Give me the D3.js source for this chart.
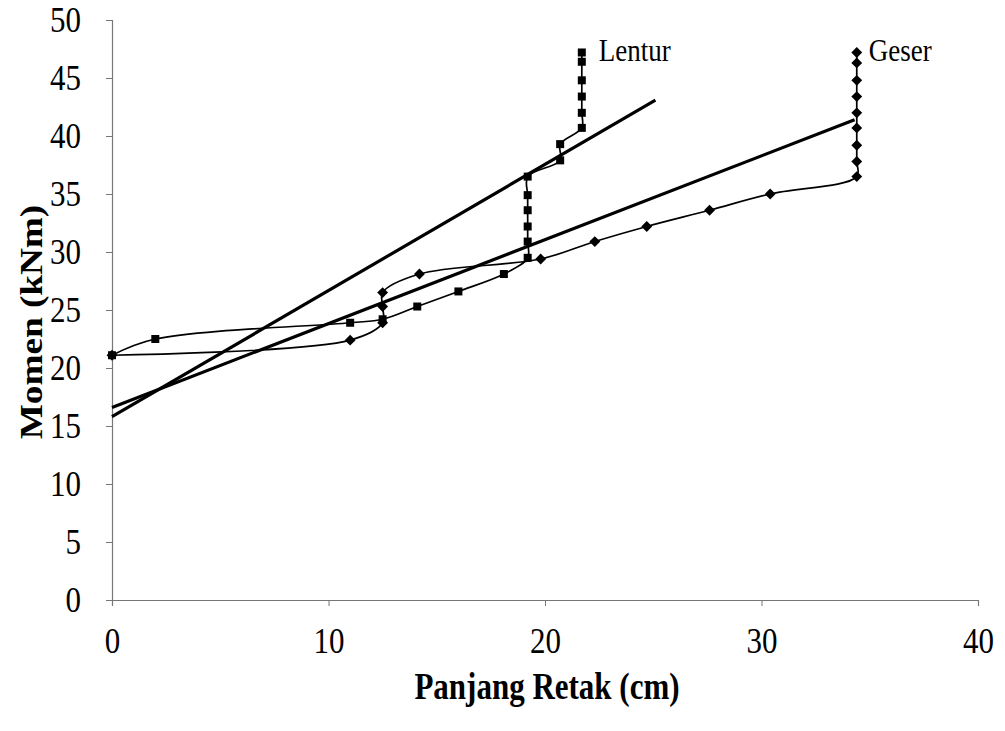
<!DOCTYPE html>
<html>
<head>
<meta charset="utf-8">
<script src="https://cdn.jsdelivr.net/npm/d3@7"></script>
<style>
  body { margin: 0; background: #fff; }
  svg text { font-family: "Liberation Serif", "Times New Roman", serif; fill: #000; }
</style>
</head>
<body>
<svg id="chart" width="1005" height="731"></svg>
<script>
// Lentur (flexure) series, square markers
const lenturX = [0, 2, 11, 12.5, 14.1, 16.0, 18.1, 19.2, 19.2, 19.2, 19.2, 19.2, 19.2, 20.7, 20.7, 21.7, 21.7, 21.7, 21.7, 21.7, 21.7];
const lenturY = [21.1, 22.5, 23.9, 24.2, 25.3, 26.6, 28.1, 29.5, 30.9, 32.2, 33.6, 34.9, 36.5, 37.9, 39.3, 40.7, 42.0, 43.4, 44.8, 46.4, 47.2];
// Geser (shear) series, diamond markers
const geserX = [0, 11, 12.5, 12.5, 12.5, 14.2, 19.8, 22.3, 24.7, 27.6, 30.4, 34.4, 34.4, 34.4, 34.4, 34.4, 34.4, 34.4, 34.4, 34.4];
const geserY = [21.1, 22.4, 23.9, 25.3, 26.5, 28.1, 29.4, 30.9, 32.2, 33.6, 35.0, 36.5, 37.8, 39.2, 40.7, 42.0, 43.4, 44.8, 46.3, 47.2];
// linear trend lines
const lenturTrend = [[0, 15.8], [25.1, 43.1]];
const geserTrend = [[0, 16.6], [34.3, 41.4]];
const xTicks = [0, 10, 20, 30, 40];
const yTicks = [0, 5, 10, 15, 20, 25, 30, 35, 40, 45, 50];

const svg = d3.select('#chart');
const x = d3.scaleLinear().domain([0, 40]).range([112, 978]);
const y = d3.scaleLinear().domain([0, 50]).range([600, 20]);

// axes
const xAxis = svg.append('g')
    .attr('transform', `translate(0, ${y(0)})`)
    .call(d3.axisBottom(x).tickValues(xTicks).tickSize(6).tickPadding(17));
const yAxis = svg.append('g')
    .attr('transform', `translate(${x(0)}, 0)`)
    .call(d3.axisLeft(y).tickValues(yTicks).tickSize(6).tickPadding(25));
[xAxis, yAxis].forEach(a => {
    a.select('.domain').attr('stroke', '#777').attr('stroke-width', 1.2);
    a.selectAll('.tick line').attr('stroke', '#777');
    a.selectAll('.tick text')
        .style('font-family', '"Liberation Serif", serif')
        .style('font-size', '31px')
        .attr('fill', '#000')
        .attr('transform', 'scale(1, 1.15)');
});
xAxis.selectAll('.tick text').attr('dy', '0.75em');

// axis titles
svg.append('text')
    .attr('transform', 'translate(547, 699) scale(1, 1.2)')
    .attr('text-anchor', 'middle')
    .style('font-size', '31px').style('font-weight', 'bold')
    .text('Panjang Retak (cm)');
svg.append('text')
    .attr('transform', 'translate(42, 322) rotate(-90) scale(1.2, 1)')
    .attr('text-anchor', 'middle')
    .style('font-size', '31px').style('font-weight', 'bold')
    .text('Momen (kNm)');

// trend lines
const straight = d3.line().x(d => x(d[0])).y(d => y(d[1]));
[lenturTrend, geserTrend].forEach(t => {
    svg.append('path')
        .attr('d', straight(t))
        .attr('fill', 'none')
        .attr('stroke', '#000')
        .attr('stroke-width', 3.2);
});

// data curves
const smooth = d3.line().x(d => x(d[0])).y(d => y(d[1])).curve(d3.curveCatmullRom.alpha(0.5));
const lentur = lenturX.map((v, i) => [v, lenturY[i]]);
const geser = geserX.map((v, i) => [v, geserY[i]]);
[lentur, geser].forEach(s => {
    svg.append('path')
        .attr('d', smooth(s))
        .attr('fill', 'none')
        .attr('stroke', '#000')
        .attr('stroke-width', 1.7);
});

// markers
svg.append('g').selectAll('rect')
    .data(lentur)
    .enter()
    .append('rect')
    .attr('x', d => x(d[0]) - 4)
    .attr('y', d => y(d[1]) - 4)
    .attr('width', 8)
    .attr('height', 8)
    .attr('fill', '#000');
svg.append('g').selectAll('path')
    .data(geser)
    .enter()
    .append('path')
    .attr('d', d3.symbol(d3.symbolDiamond2, 75))
    .attr('transform', d => `translate(${x(d[0])}, ${y(d[1])})`)
    .attr('fill', '#000');

// series labels
svg.append('text')
    .attr('transform', `translate(${x(21.7) + 17}, ${y(47.2) + 9}) scale(1, 1.15)`)
    .style('font-size', '27px')
    .text('Lentur');
svg.append('text')
    .attr('transform', `translate(${x(34.4) + 12}, ${y(47.2) + 9}) scale(1, 1.15)`)
    .style('font-size', '27px')
    .text('Geser');
</script>
</body>
</html>
